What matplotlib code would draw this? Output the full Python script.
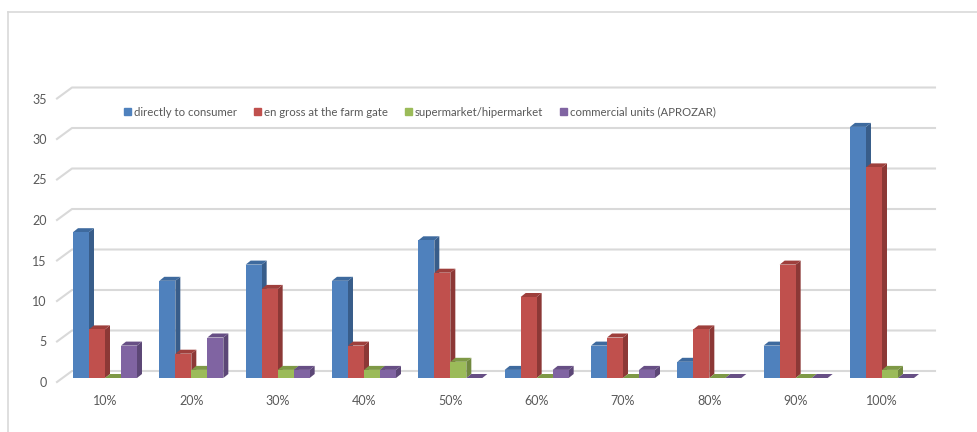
import matplotlib
matplotlib.use("Agg")
import matplotlib.pyplot as plt
from matplotlib.patches import Patch
from matplotlib.lines import Line2D
from matplotlib.transforms import ScaledTranslation

# data
categories = ['10%', '20%', '30%', '40%', '50%', '60%', '70%', '80%', '90%', '100%']
consumer = [18, 12, 14, 12, 17, 1, 4, 2, 4, 31]
farm_gate = [6, 3, 11, 4, 13, 10, 5, 6, 14, 26]
supermarket = [0, 1, 1, 1, 2, 0, 0, 0, 0, 1]
aprozar = [4, 5, 1, 1, 0, 1, 1, 0, 0, 0]
series_names = ['directly to consumer', 'en gross at the farm gate',
                'supermarket/hipermarket', 'commercial units (APROZAR)']
y_ticks = [0, 5, 10, 15, 20, 25, 30, 35]

front = ['#4F81BD', '#C0504D', '#9BBB59', '#8064A2']
side = ['#385D8A', '#8C3836', '#71893F', '#5C4776']
top = ['#3E6A9E', '#9E3F3C', '#7E9946', '#674F85']
grid_c = '#D9D9D9'
text_c = '#595959'

plt.rcParams['font.family'] = ['Lato', 'DejaVu Sans']

W, H = 978, 432
fig = plt.figure(figsize=(W / 100, H / 100), dpi=100)
ax = fig.add_axes([62 / W, 54 / H, 873 / W, 291.6 / H])
xl, xr = -0.498, 9.614
ax.set_xlim(xl, xr)
ax.set_ylim(0, 36)

# pixel -> data units
ux = (xr - xl) / 873
uy = 36 / 291.6
w = 16 * ux
dx, dy = 5 * ux, 4 * uy

# slanted 3d-style gridlines
for v in y_ticks:
    ax.plot([xl - 5 * ux, xl + 10 * ux, xr], [v - 4 * uy, v + 7 * uy, v + 7 * uy],
            color=grid_c, lw=1.5, zorder=1, clip_on=False)

data = [consumer, farm_gate, supermarket, aprozar]
for k, vals in enumerate(data):
    for i, h in enumerate(vals):
        x0 = i + (k - 2) * w
        x1 = x0 + w
        z = 3 + k
        ax.fill([x1, x1, x1 + dx, x1 + dx], [0, h, h + dy, dy],
                color=side[k], lw=0, zorder=z)
        ax.fill([x0, x1, x1 + dx, x0 + dx], [h, h, h + dy, h + dy],
                color=top[k], lw=0, zorder=z)
        if h > 0:
            ax.bar(x0, h, w, align='edge', color=front[k], lw=0, zorder=z)

for s in ax.spines.values():
    s.set_visible(False)
ax.set_yticks(y_ticks)
ax.set_xticks(range(len(categories)), categories)
ax.tick_params(axis='y', length=0, pad=11, labelsize=9, labelcolor=text_c)
ax.tick_params(axis='x', length=0, pad=12.5, labelsize=9, labelcolor=text_c)
shift = ScaledTranslation(0, -0.04, fig.dpi_scale_trans)
for lab in ax.get_yticklabels():
    lab.set_transform(lab.get_transform() + shift)

handles = [Patch(color=c) for c in front]
fig.legend(handles, series_names, ncol=4, loc='center left',
           bbox_to_anchor=(114 / W, 1 - 112 / H), frameon=False,
           handlelength=0.6, handleheight=0.6, handletextpad=0.3,
           columnspacing=1.45, fontsize=8.2, labelcolor=text_c)

# outer chart border
fig.add_artist(Line2D([8 / W, 8 / W], [0, 1 - 12 / H], color=grid_c, lw=1.2))
fig.add_artist(Line2D([8 / W, 1], [1 - 12 / H, 1 - 12 / H], color=grid_c, lw=1.2))

fig.savefig('out.png', dpi=100)
